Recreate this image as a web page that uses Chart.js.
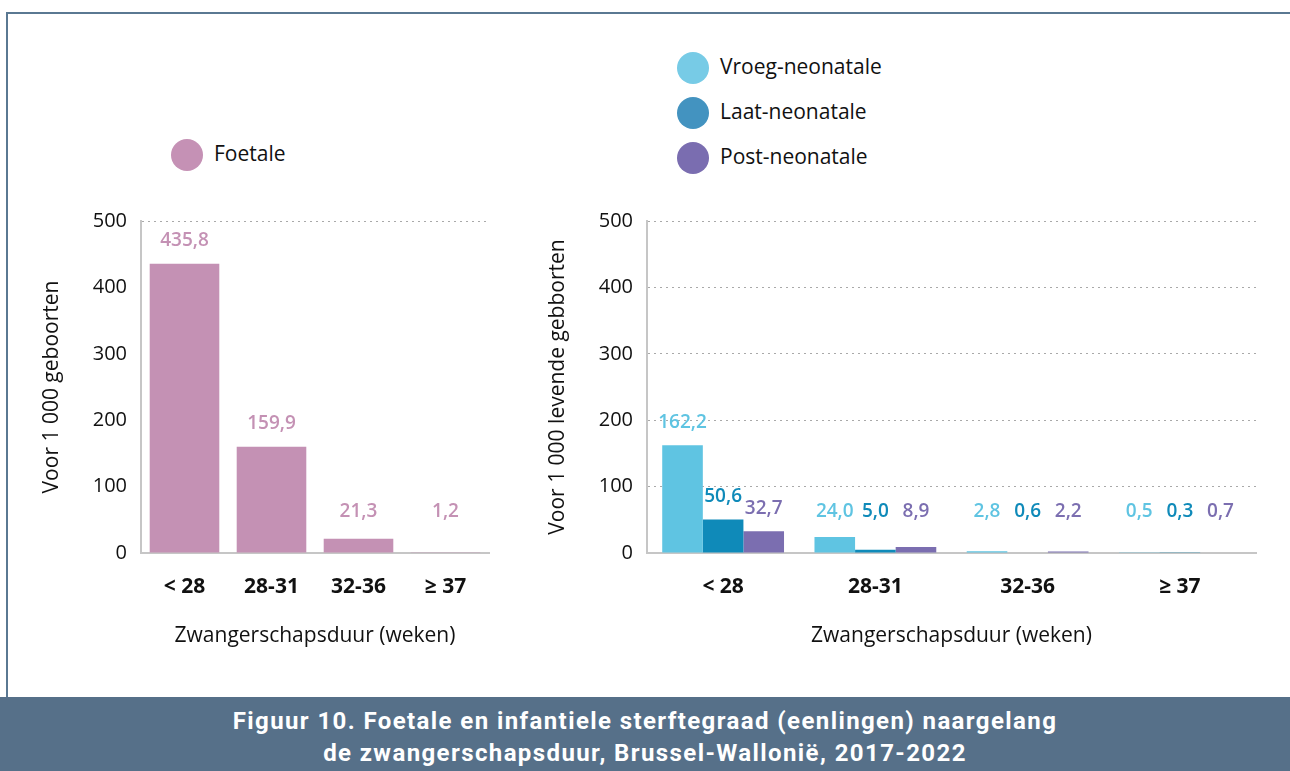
<!DOCTYPE html>
<html>
<head>
<meta charset="utf-8">
<title>Figuur 10</title>
<script src="https://cdn.jsdelivr.net/npm/chart.js@4.4.0/dist/chart.umd.min.js"></script>
<style>
  html, body { margin: 0; padding: 0; background: #fff; }
  body { width: 1290px; height: 771px; position: relative; overflow: hidden; font-family: "Open Sans", sans-serif; }
  .frame { position: absolute; left: 6px; top: 12px; width: 1290px; height: 690px; border-left: 2px solid #5a7892; border-top: 2px solid #5a7892; }
  .cv { position: absolute; }
  .legend { position: absolute; font-size: 21px; color: #111; }
  .legend .item { position: absolute; white-space: nowrap; }
  .legend .dot { position: absolute; width: 32px; height: 32px; border-radius: 50%; }
  .legend .txt { position: absolute; left: 0; }
  .caption { position: absolute; left: 0; top: 697px; width: 1290px; height: 74px; background: #567089; color: #fff;
             font-family: Roboto, sans-serif; font-weight: 700; font-size: 24px; letter-spacing: 1.4px; line-height: 32px; text-align: center;
             padding-top: 8px; box-sizing: border-box; }
</style>
</head>
<body>
<div class="frame"></div>
<div class="legend" id="legLeft"></div>
<div class="legend" id="legRight"></div>
<canvas id="foetal" class="cv" style="left:30px;top:190px;width:470px;height:465px"></canvas>
<canvas id="infant" class="cv" style="left:530px;top:190px;width:732px;height:465px"></canvas>
<div class="caption">Figuur 10. Foetale en infantiele sterftegraad (eenlingen) naargelang<br>de zwangerschapsduur, Brussel-Wallonië, 2017-2022</div>
<script>
// categories and values
const categories = ['< 28', '28-31', '32-36', '≥ 37'];
const foetale = [435.8, 159.9, 21.3, 1.2];
const vroegNeonatale = [162.2, 24.0, 2.8, 0.5];
const laatNeonatale = [50.6, 5.0, 0.6, 0.3];
const postNeonatale = [32.7, 8.9, 2.2, 0.7];
const yTicks = [0, 100, 200, 300, 400, 500];

const leftSeries = [
  { name: 'Foetale', data: foetale, color: '#c491b4', legend: '#c591b5' }
];
const rightSeries = [
  { name: 'Vroeg-neonatale', data: vroegNeonatale, color: '#5fc4e2', legend: '#77cbe6' },
  { name: 'Laat-neonatale', data: laatNeonatale, color: '#0f8ab9', legend: '#4393c0' },
  { name: 'Post-neonatale', data: postNeonatale, color: '#7b6eb0', legend: '#7a6db0' }
];

function buildLegend(el, series, x, y, gap) {
  series.forEach(function(s, i) {
    const item = document.createElement('div');
    item.className = 'item';
    item.style.left = x + 'px';
    item.style.top = (y + i * gap) + 'px';
    item.innerHTML = '<span class="dot" style="left:0;top:0;background:' + s.legend + '"></span>' +
      '<span class="txt" style="left:43px;top:0px">' + s.name + '</span>';
    el.appendChild(item);
  });
}
buildLegend(document.getElementById('legLeft'), leftSeries, 171, 139, 45);
buildLegend(document.getElementById('legRight'), rightSeries, 677, 52, 45);

// value labels above bars, never lower than a fixed line above the axis
const valueLabels = {
  id: 'valueLabels',
  afterDatasetsDraw(chart) {
    const ctx = chart.ctx;
    const zeroY = chart.scales.y.getPixelForValue(0);
    ctx.save();
    ctx.font = '600 19px "Open Sans", sans-serif';
    ctx.textAlign = 'center';
    ctx.textBaseline = 'middle';
    chart.data.datasets.forEach(function(ds, i) {
      chart.getDatasetMeta(i).data.forEach(function(bar, j) {
        const y = Math.min(bar.y - 23, zeroY - 41);
        ctx.fillStyle = ds.backgroundColor;
        ctx.fillText(ds.data[j].toFixed(1).replace('.', ','), bar.x, y);
      });
    });
    ctx.restore();
  }
};

function makeChart(id, series, yTitle, yWidth, titlePad, padRight, catPct, allGrid) {
  return new Chart(document.getElementById(id), {
    type: 'bar',
    data: {
      labels: categories,
      datasets: series.map(function(s) {
        return { label: s.name, data: s.data, backgroundColor: s.color, borderWidth: 0,
                 categoryPercentage: catPct, barPercentage: 1 };
      })
    },
    options: {
      responsive: false,
      animation: false,
      layout: { padding: { top: 31, right: padRight, left: 0, bottom: 0 } },
      plugins: { legend: { display: false }, tooltip: { enabled: false } },
      scales: {
        x: {
          grid: { display: false, drawTicks: false },
          border: { display: true, color: '#c6c6c6', width: 2 },
          ticks: { color: '#111', padding: 21, font: { family: '"Open Sans", sans-serif', size: 21, weight: 'bold' } },
          title: { display: true, text: 'Zwangerschapsduur (weken)', color: '#111',
                   font: { family: '"Open Sans", sans-serif', size: 21 }, padding: { top: 20, bottom: 6.4 } },
          afterFit: function(s) { s.height = 102; }
        },
        y: {
          min: 0, max: 500,
          afterBuildTicks: function(s) { s.ticks = yTicks.map(function(v) { return { value: v }; }); },
          grid: {
            drawTicks: false,
            color: function(c) {
              if (c.tick.value === 0) return 'rgba(0,0,0,0)';
              if (!allGrid && c.tick.value !== 500) return 'rgba(0,0,0,0)';
              return '#a9a9a9';
            },
            lineWidth: 1
          },
          border: { display: true, color: '#c6c6c6', width: 2, dash: [2, 4] },
          ticks: { color: '#111', padding: 14, font: { family: '"Open Sans", sans-serif', size: 20 } },
          title: { display: true, text: yTitle, color: '#111',
                   font: { family: '"Open Sans", sans-serif', size: 21 }, padding: { top: titlePad, bottom: 0 } },
          afterFit: function(s) { s.width = yWidth; }
        }
      }
    },
    plugins: [valueLabels]
  });
}

makeChart('foetal', leftSeries, 'Voor 1 000 geboorten', 111, 9.4, 11, 0.8, false);
makeChart('infant', rightSeries, 'Voor 1 000 levende gebborten', 117, 15.4, 6, 0.8, true);
</script>
</body>
</html>
